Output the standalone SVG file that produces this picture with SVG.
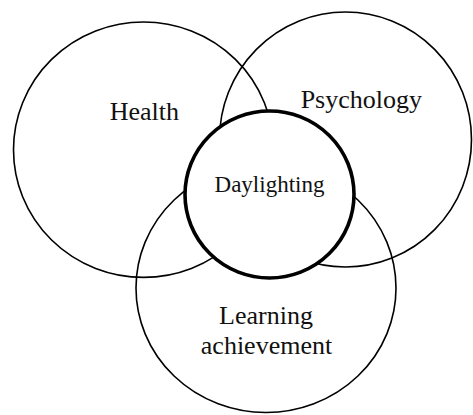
<svg xmlns="http://www.w3.org/2000/svg" width="473" height="415" viewBox="0 0 473 415">
  <style>
    .ring { fill: none; stroke: #000; stroke-width: 1.6; }
    .core { fill: #fff; stroke: #000; stroke-width: 3.6; }
    .label { font-family: "Liberation Serif", "Times New Roman", serif; font-size: 26px; fill: #111; text-anchor: middle; }
    .core-label { font-size: 23px; }
  </style>
  <rect width="473" height="415" fill="#fff"/>
  <g id="health">
    <ellipse class="ring" cx="143.5" cy="149.7" rx="130" ry="127.7"/>
    <text class="label" x="144.3" y="120">Health</text>
  </g>
  <g id="psychology">
    <ellipse class="ring" cx="345.5" cy="139.5" rx="126" ry="127.5"/>
    <text class="label" x="361.3" y="108.3">Psychology</text>
  </g>
  <g id="learning">
    <ellipse class="ring" cx="266" cy="288" rx="130" ry="124.5"/>
    <text class="label" x="266" y="324">Learning</text>
    <text class="label" x="266.5" y="354">achievement</text>
  </g>
  <g id="daylighting">
    <ellipse class="core" cx="269.5" cy="194.5" rx="84.5" ry="83.5"/>
    <text class="label core-label" x="269.5" y="191.7">Daylighting</text>
  </g>
</svg>
